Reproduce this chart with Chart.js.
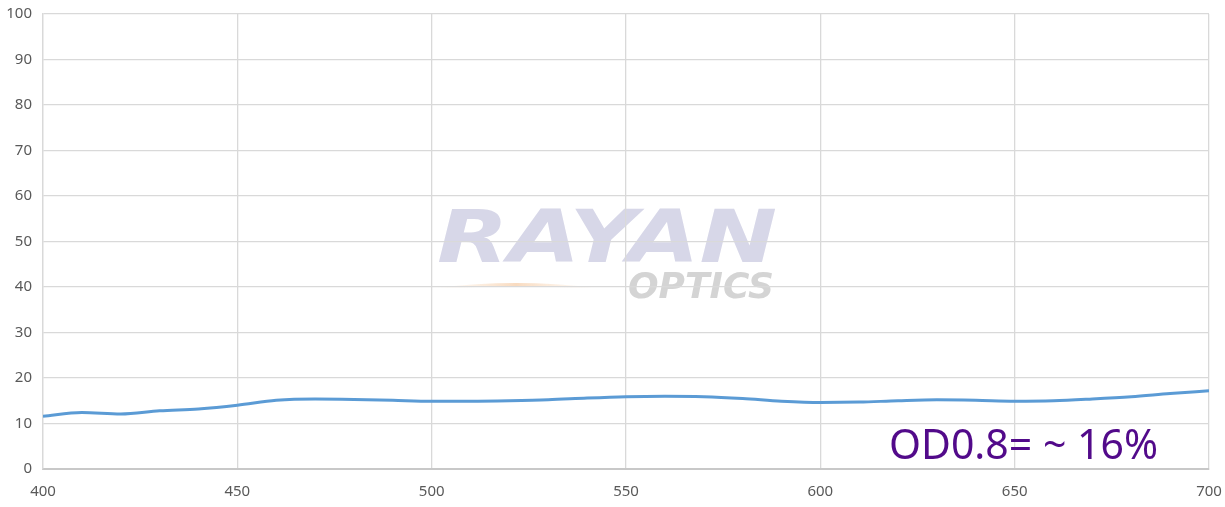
<!DOCTYPE html>
<html lang="en">
<head>
    <meta charset="UTF-8">
    <title>OD0.8 transmission</title>
    <script src="https://cdn.jsdelivr.net/npm/chart.js@4.4.1/dist/chart.umd.min.js"></script>
    <style>
        html, body { margin: 0; padding: 0; background: #fff; }
        .chart-box { width: 1225px; height: 507px; position: relative; }
    </style>
</head>
<body>
    <div class="chart-box">
        <canvas id="odChart"></canvas>
    </div>

    <script>
        // wavelength (nm) and transmission (%)
        const wavelengths = [400, 410, 420, 430, 440, 450, 460, 470, 480, 490, 500, 510, 520, 530, 540, 550,
                             560, 570, 580, 590, 600, 610, 620, 630, 640, 650, 660, 670, 680, 690, 700];
        const transmission = [11.6, 12.4, 12.1, 12.8, 13.2, 14.0, 15.1, 15.4, 15.3, 15.1, 14.9, 14.9, 15.0, 15.2, 15.6, 15.9,
                              16.0, 15.9, 15.5, 14.9, 14.6, 14.7, 15.0, 15.2, 15.1, 14.9, 15.0, 15.4, 15.9, 16.6, 17.2];
        const xTicks = [400, 450, 500, 550, 600, 650, 700];
        const yTicks = [0, 10, 20, 30, 40, 50, 60, 70, 80, 90, 100];
        const noteText = 'OD0.8= ~ 16%';

        // faint logo behind the plot
        const watermark = {
            id: 'watermark',
            beforeDraw(chart) {
                const { ctx, chartArea: a } = chart;
                const cx = (a.left + a.right) / 2;
                ctx.save();
                ctx.textBaseline = 'alphabetic';
                ctx.textAlign = 'left';
                ctx.font = 'italic bold 76px "DejaVu Sans"';
                ctx.fillStyle = '#d7d7e8';
                ctx.save();
                ctx.translate(cx - 189, a.top + 248);
                ctx.scale(1.22, 0.95);
                ctx.fillText('RAYAN', 0, 0);
                ctx.restore();
                ctx.font = 'italic bold 36px "DejaVu Sans"';
                ctx.fillStyle = '#d4d4d4';
                ctx.fillText('OPTICS', cx + 2, a.top + 284);
                const g = ctx.createLinearGradient(cx - 190, 0, cx - 30, 0);
                g.addColorStop(0, 'rgba(250,225,200,0)');
                g.addColorStop(0.5, 'rgba(248,215,185,0.9)');
                g.addColorStop(1, 'rgba(250,225,200,0)');
                ctx.fillStyle = g;
                ctx.beginPath();
                ctx.moveTo(cx - 190, a.top + 274);
                ctx.quadraticCurveTo(cx - 110, a.top + 264, cx - 30, a.top + 274);
                ctx.quadraticCurveTo(cx - 110, a.top + 271, cx - 190, a.top + 274);
                ctx.fill();
                ctx.restore();
            }
        };

        // purple note in lower right
        const noteLabel = {
            id: 'noteLabel',
            afterDraw(chart) {
                const { ctx, chartArea: a } = chart;
                ctx.save();
                ctx.font = '41px "Noto Sans"';
                ctx.fillStyle = '#520a8a';
                ctx.textAlign = 'right';
                ctx.textBaseline = 'alphabetic';
                ctx.fillText(noteText, a.right - 51, a.bottom - 10);
                ctx.restore();
            }
        };

        new Chart(document.getElementById('odChart'), {
            type: 'line',
            data: {
                labels: wavelengths,
                datasets: [{
                    data: transmission,
                    borderColor: '#5b9bd5',
                    borderWidth: 3,
                    pointRadius: 0,
                    tension: 0.4,
                    cubicInterpolationMode: 'monotone',
                    fill: false
                }]
            },
            options: {
                responsive: true,
                maintainAspectRatio: false,
                animation: false,
                layout: { padding: { top: 14, right: 16, left: 0, bottom: 0 } },
                plugins: { legend: { display: false }, tooltip: { enabled: false } },
                scales: {
                    x: {
                        type: 'linear',
                        min: 400,
                        max: 700,
                        afterBuildTicks: s => { s.ticks = xTicks.map(v => ({ value: v })); },
                        afterFit: s => { s.height = 38; s.paddingLeft = 0; s.paddingRight = 0; },
                        grid: { color: '#d9d9d9', lineWidth: 1.3, drawTicks: false },
                        border: { color: '#c8c8c8', width: 2 },
                        ticks: { color: '#595959', font: { family: 'Noto Sans', size: 15 }, padding: 14, maxRotation: 0 }
                    },
                    y: {
                        min: 0,
                        max: 100,
                        afterBuildTicks: s => { s.ticks = yTicks.map(v => ({ value: v })); },
                        afterFit: s => { s.width = 43; s.paddingTop = 0; s.paddingBottom = 0; },
                        grid: { color: '#d9d9d9', lineWidth: 1.3, drawTicks: false },
                        border: { color: '#d9d9d9', width: 1.3 },
                        ticks: { color: '#595959', font: { family: 'Noto Sans', size: 15 }, padding: 11 }
                    }
                }
            },
            plugins: [watermark, noteLabel]
        });
    </script>
</body>
</html>
